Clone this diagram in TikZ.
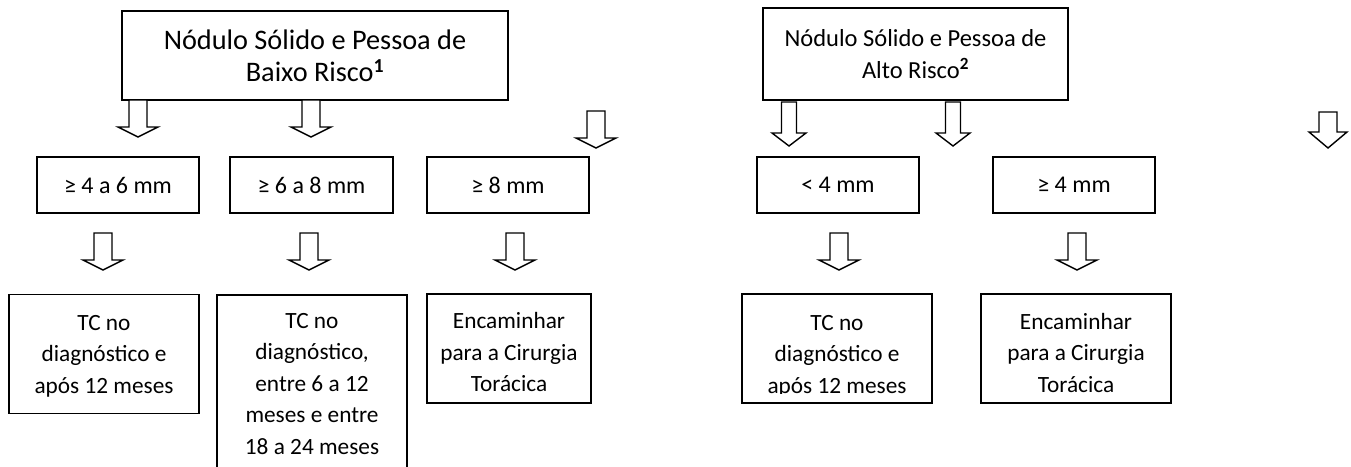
\documentclass[tikz,border=0pt]{standalone}
\usepackage{fontspec}
\setmainfont{Carlito}
\newcommand\stack[1]{\begin{tabular}[t]{@{}c@{}}#1\end{tabular}}
\tikzset{
  pics/blk/.style n args={4}{code={
    \draw[barrow] (-#3,0) -- (-#3,#1) -- (-#4,#1) -- (0,#2) -- (#4,#1) -- (#3,#1) -- (#3,0) -- cycle;}}
}
\begin{document}
\begin{tikzpicture}[x=1pt,y=-1pt,
  box/.style={draw,line width=1.8pt,inner sep=0pt,align=center},
  titlefont/.style={font=\fontsize{28.3}{32}\selectfont},
  midfont/.style={font=\fontsize{24}{28}\selectfont},
  lowtext/.style={font=\fontsize{23.3}{31.5}\selectfont,inner sep=0pt,anchor=base},
  barrow/.style={draw,line width=1.4pt,fill=white,line join=miter}]
\useasboundingbox (0,0) rectangle (1351,466);

% top boxes
\node[box,titlefont,minimum width=386pt,minimum height=89pt] (t1) at (315,55.5)
  {Nódulo Sólido e Pessoa de\\Baixo Risco\textsuperscript{\textbf{1}}};
\node[box,font=\fontsize{24.5}{32}\selectfont,minimum width=305pt,minimum height=92pt] (t2) at (915.5,54)
  {Nódulo Sólido e Pessoa de\\Alto Risco\textsuperscript{\textbf{2}}};

% middle boxes
\node[box,midfont,minimum width=162pt,minimum height=56pt] (m1) at (118,185) {≥ 4 a 6 mm};
\node[box,midfont,minimum width=163pt,minimum height=56pt] (m2) at (311.5,185) {≥ 6 a 8 mm};
\node[box,midfont,minimum width=162pt,minimum height=56pt] (m3) at (508,185) {≥ 8 mm};
\node[box,midfont,minimum width=162pt,minimum height=56pt] (m4) at (838,185) {< 4 mm};
\node[box,midfont,minimum width=162pt,minimum height=56pt] (m5) at (1074,185) {≥ 4 mm};

% bottom boxes
\node[box,minimum width=190pt,minimum height=119pt] (b1) at (104,354) {};
\node[box,minimum width=190pt,minimum height=185pt] (b2) at (312,387.5) {};
\node[box,minimum width=164pt,minimum height=109pt] (b3) at (509,348.5) {};
\node[box,minimum width=190pt,minimum height=109pt] (b4) at (837,348.5) {};
\node[box,minimum width=190pt,minimum height=109pt] (b5) at (1076,348.5) {};

\node[lowtext] (b1t) at (104,330) {\stack{TC no\\diagnóstico e\\após 12 meses}};
\node[lowtext] (b2t) at (312,328) {\stack{TC no\\diagnóstico,\\entre 6 a 12\\meses e entre\\18 a 24 meses}};
\node[lowtext] (b3t) at (509,328.5) {\stack{Encaminhar\\para a Cirurgia\\Torácica}};
\begin{scope}
  \clip (742,296) rectangle (932,393.5);
  \node[lowtext] (b4t) at (837,330) {\stack{TC no\\diagnóstico e\\após 12 meses}};
\end{scope}
\begin{scope}
  \clip (981,296) rectangle (1171,393.5);
  \node[lowtext] (b5t) at (1076,329) {\stack{Encaminhar\\para a Cirurgia\\Torácica}};
\end{scope}

% block arrows (upper row)
\coordinate (u1) at (138,100);
\coordinate (u2) at (311,100);
\coordinate (u3) at (596,111);
\coordinate (u4) at (789,102);
\coordinate (u5) at (953,102);
\coordinate (u6) at (1328,112);
\pic at (u1) {blk={27}{37}{9}{20}};
\pic at (u2) {blk={27}{37}{9}{20}};
\pic at (u3) {blk={27}{37}{9}{20}};
\pic at (u4) {blk={31}{44}{7.5}{17}};
\pic at (u5) {blk={31}{44}{7.5}{17}};
\pic at (u6) {blk={20}{36}{9}{19}};

% block arrows (lower row)
\coordinate (l1) at (103,233);
\coordinate (l2) at (309,233);
\coordinate (l3) at (515,233);
\coordinate (l4) at (839,233);
\coordinate (l5) at (1077,233);
\pic at (l1) {blk={27}{37}{9}{20}};
\pic at (l2) {blk={27}{37}{9}{20}};
\pic at (l3) {blk={27}{37}{9}{20}};
\pic at (l4) {blk={27}{37}{9}{20}};
\pic at (l5) {blk={27}{37}{9}{20}};
\end{tikzpicture}
\end{document}
